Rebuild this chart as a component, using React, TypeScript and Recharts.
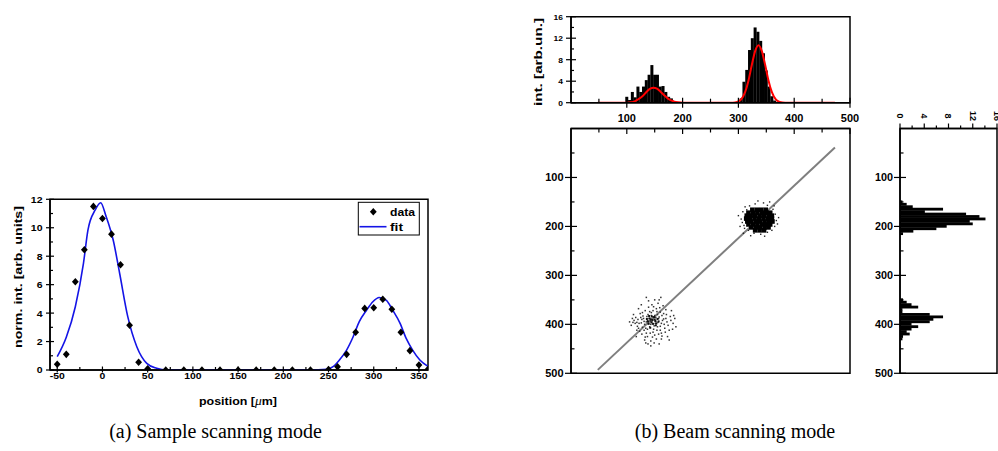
import React from 'react';
import { ComposedChart, XAxis, YAxis, Scatter, Line, Bar, ReferenceArea } from 'recharts';

const W = 998;
const H = 451;
const SANS = '"Liberation Sans", Arial, sans-serif';
const SERIF = '"Liberation Serif", "Times New Roman", serif';

// ---- (a) sample scanning mode ----
const scanPos = [-50, -40, -30, -20, -10, 0, 10, 20, 30, 40, 50, 70, 90, 110, 130, 150, 170, 190, 210, 230, 250, 260, 270, 280, 290, 300, 310, 320, 330, 340, 350, 360];
const scanInt = [0.4, 1.1, 6.2, 8.45, 11.5, 10.65, 9.55, 7.4, 3.15, 0.55, 0.08, 0, 0, 0, 0, 0, 0, 0, 0, 0, 0.03, 0.23, 1.1, 2.65, 4.33, 4.38, 4.97, 4.27, 2.65, 1.36, 0.35, 0.05];

const fitPos = [-50, -40, -30, -21, -16, -8, -2, 4, 12, 19, 28, 38, 49, 60, 71, 100, 150, 200, 229, 248, 255, 262, 270, 277, 284, 292, 299, 306, 314, 321, 329, 336, 343, 351, 360];
const fitInt = [0.94, 2.3, 4.45, 7.5, 9.85, 11.25, 11.76, 10.8, 9.1, 6.8, 3.75, 1.64, 0.47, 0.12, 0, 0, 0, 0, 0, 0.05, 0.23, 0.7, 1.4, 2.3, 3.4, 4.2, 4.8, 5.1, 4.9, 4.2, 3.3, 2.2, 1.4, 0.7, 0.25];

const aTicksX = [-50, -25, 0, 25, 50, 75, 100, 125, 150, 175, 200, 225, 250, 275, 300, 325, 350];
const aMajorX = [-50, 0, 50, 100, 150, 200, 250, 300, 350];
const aTicksY = [0, 1, 2, 3, 4, 5, 6, 7, 8, 9, 10, 11, 12];
const aMajorY = [0, 2, 4, 6, 8, 10, 12];

// ---- (b) beam scanning mode ----
// projection onto x (top histogram)
const histTopX = [100, 105, 110, 115, 120, 125, 130, 135, 140, 145, 150, 155, 160, 165, 170, 175, 180, 305, 310, 315, 320, 325, 330, 335, 340, 345, 350, 355, 360, 365];
const histTopV = [1.1, 0.5, 2, 1, 3, 2, 3, 4.2, 5.2, 7, 5.2, 5.2, 3, 3.1, 2, 1.1, 0.8, 0.8, 3.9, 6.1, 9.8, 12, 14, 13.2, 11.5, 9.2, 6, 3, 1.2, 0.4];

const fitTopX = [48, 95, 105, 112, 120, 128, 136, 142, 148, 154, 160, 168, 176, 184, 192, 202, 290, 298, 305, 312, 318, 324, 330, 336, 342, 348, 354, 360, 367, 374, 384, 473];
const fitTopY = [0, 0, 0.05, 0.15, 0.6, 1.2, 2.1, 2.6, 2.8, 2.6, 2.1, 1.3, 0.6, 0.25, 0.07, 0, 0, 0.15, 0.6, 1.95, 4.1, 7.0, 9.6, 10.7, 9.6, 7.0, 4.1, 1.95, 0.6, 0.15, 0, 0];

// projection onto y (right histogram)
const histRightY = [150, 155, 160, 165, 170, 175, 180, 185, 190, 195, 200, 205, 210, 215, 350, 355, 360, 365, 370, 375, 380, 385, 390, 395, 400, 405, 410, 415, 420, 425, 430];
const histRightV = [0.4, 1.1, 2.1, 7.1, 4.1, 10.9, 13.1, 14.1, 11.5, 12, 7.7, 6, 2.2, 0.5, 0.5, 1.1, 1.9, 3, 0.4, 0.4, 4.9, 7.1, 5.5, 4.9, 1.9, 3, 1.9, 1.1, 1.6, 0.5, 0.4];

// spot positions (x, y)
const sparseSpot = [
  [146, 391], [140, 388], [152, 394], [135, 395], [158, 385], [143, 400], [150, 382], [130, 388], [162, 398], [138, 380],
  [155, 405], [126, 397], [166, 389], [148, 410], [133, 372], [160, 375], [120, 390], [172, 395], [142, 418], [153, 368],
  [128, 406], [168, 408], [115, 398], [178, 384], [137, 425], [157, 420], [124, 378], [170, 370], [110, 388], [183, 398],
  [145, 360], [132, 432], [162, 430], [118, 412], [176, 412], [150, 350], [108, 402], [186, 388], [139, 365], [127, 420],
  [165, 362], [149, 438], [121, 368], [180, 372], [112, 380], [173, 425], [135, 345], [158, 440], [105, 395], [188, 405],
  [144, 376], [151, 398], [137, 392], [157, 388], [141, 405], [148, 386], [132, 400], [163, 382], [129, 383], [154, 412],
  [119, 404], [167, 400], [146, 426], [123, 414], [171, 380], [139, 352], [156, 357], [113, 392], [182, 410], [134, 438],
  [161, 345], [126, 360], [176, 432], [117, 425], [143, 444], [153, 430], [131, 412], [160, 412], [145, 395], [149, 403],
  [136, 384], [142, 393], [155, 380], [147, 372], [164, 392], [127, 390], [159, 366], [134, 408], [169, 416], [122, 398],
  [139, 398], [144, 382], [152, 386], [131, 394], [160, 404], [125, 386], [166, 378], [147, 416], [137, 410], [156, 396],
  [118, 396], [174, 402], [141, 374], [150, 422], [128, 376], [162, 418], [116, 386], [179, 392], [135, 418], [154, 374],
  [121, 408], [170, 388], [143, 434], [148, 364], [133, 426], [163, 424], [111, 396], [184, 382], [138, 440], [158, 350],
];
const sparseCore = [
  [146, 391], [141, 388], [151, 393], [144, 396], [149, 385], [138, 394], [153, 398], [147, 399], [140, 383], [155, 389],
  [143, 390], [150, 390], [136, 389], [145, 384], [152, 402], [139, 399], [157, 394], [142, 407],
];
const denseCore = [
  [325, 166], [333, 166], [341, 166], [349, 166],
  [318, 172], [326, 172], [334, 172], [342, 172], [350, 172], [357, 172],
  [315, 178], [322, 178], [330, 178], [338, 178], [346, 178], [354, 178], [360, 178],
  [314, 184], [321, 184], [329, 184], [337, 184], [345, 184], [353, 184], [360, 184],
  [316, 190], [323, 190], [331, 190], [339, 190], [347, 190], [355, 190], [361, 190],
  [318, 196], [326, 196], [334, 196], [342, 196], [350, 196], [357, 196],
  [323, 202], [331, 202], [339, 202], [347, 202], [354, 202],
  [330, 208], [338, 208], [346, 208],
];
const denseFringe = [
  [305, 185], [308, 170], [310, 198], [312, 160], [320, 158], [330, 154], [345, 152], [352, 157], [362, 165], [366, 175],
  [368, 188], [365, 200], [360, 208], [352, 212], [340, 216], [328, 214], [318, 208], [311, 204], [307, 192], [372, 182],
  [370, 195], [300, 178], [335, 148], [356, 150], [347, 220], [322, 219], [303, 200], [309, 214], [364, 158], [315, 166],
];

const diagX = [48, 473];
const diagY = [493, 39];

const bTicks = [50, 100, 150, 200, 250, 300, 350, 400, 450, 500];
const bMajor = [100, 200, 300, 400, 500];
const hTicks = [0, 2, 4, 6, 8, 10, 12, 14, 16];
const hMajor = [0, 4, 8, 12, 16];

const ptsA = scanPos.map((x, i) => ({ x, y: scanInt[i] }));
const fitA = fitPos.map((x, i) => ({ x, y: fitInt[i] }));
const histTop = histTopX.map((x, i) => ({ x, v: histTopV[i] }));
const fitTop = fitTopX.map((x, i) => ({ x, y: fitTopY[i] }));
const histRight = histRightY.map((y, i) => ({ y, v: histRightV[i] }));
const toXY = (a: number[][]) => a.map(([x, y]) => ({ x, y }));
const diag = diagX.map((x, i) => ({ x, y: diagY[i] }));

// plot rect -> chart margin (left axis width 1, x axis height 1)
const box = (l: number, t: number, r: number, b: number, xTop = false) => ({
  left: l - 1,
  top: xTop ? t - 1 : t,
  right: W - r,
  bottom: xTop ? H - b : H - b - 1,
});
const axisLine = { stroke: '#000', strokeWidth: 1.5 };

type Side = 'left' | 'top' | 'bottom';
interface TickCfg {
  side: Side;
  majors: number[];
  labels: boolean;
  majIn: number;
  majOut: number;
  minIn: number;
  minOut: number;
  size: number;
  cw: number;
  gap: number;
  rot?: boolean;
}

const textLen = (s: string, cw: number) => s.split('').reduce((w, ch) => w + (ch === '-' ? cw * 0.6 : cw), 0);

function makeTick(c: TickCfg) {
  return function AxisTick(props: any) {
    const { x, y, payload } = props;
    const v = payload.value;
    const s = String(v);
    const major = c.majors.includes(v);
    const din = major ? c.majIn : c.minIn;
    const dout = major ? c.majOut : c.minOut;
    const ts = {
      fontFamily: SANS,
      fontWeight: 700,
      fontSize: c.size,
      fill: '#000',
      textLength: textLen(s, c.cw),
      lengthAdjust: 'spacingAndGlyphs',
    };
    let tick;
    let label = null;
    if (c.side === 'left') {
      tick = <line x1={x + din} x2={x - dout} y1={y} y2={y} stroke="#000" strokeWidth={1.2} />;
      if (major && c.labels)
        label = <text x={x - c.gap} y={y} dy="0.36em" textAnchor="end" {...ts}>{s}</text>;
    } else if (c.side === 'bottom') {
      tick = <line x1={x} x2={x} y1={y - din} y2={y + dout} stroke="#000" strokeWidth={1.2} />;
      if (major && c.labels)
        label = <text x={x} y={y + c.gap} dy="0.72em" textAnchor="middle" {...ts}>{s}</text>;
    } else {
      tick = <line x1={x} x2={x} y1={y + din} y2={y - dout} stroke="#000" strokeWidth={1.2} />;
      if (major && c.labels)
        label = c.rot ? (
          <text transform={`translate(${x},${y - c.gap}) rotate(90)`} dy="0.36em" textAnchor="middle" {...ts}>{s}</text>
        ) : (
          <text x={x} y={y - c.gap} textAnchor="middle" {...ts}>{s}</text>
        );
    }
    return (
      <g>
        {tick}
        {label}
      </g>
    );
  };
}

const axisBase = { tickSize: 0, tickMargin: 0, tickLine: false, interval: 0 as const, axisLine, allowDataOverflow: true };

function diamond(p: any) {
  const { cx, cy } = p;
  return <polygon points={`${cx},${cy - 3.8} ${cx + 3.4},${cy} ${cx},${cy + 3.8} ${cx - 3.4},${cy}`} fill="#000" />;
}
const dot = (s: number, fill: string) => (p: any) => <rect x={p.cx - s / 2} y={p.cy - s / 2} width={s} height={s} fill={fill} />;

// histogram columns drawn with a fixed thickness around the bar centre
const colShape = (p: any) => <rect x={p.x + p.width / 2 - 1.5} y={p.y} width={3} height={Math.max(p.height, 0)} fill="#000" />;
const rowShape = (p: any) => <rect x={p.x} y={p.y + p.height / 2 - 1.4} width={Math.max(p.width, 0)} height={2.8} fill="#000" />;

const abs: React.CSSProperties = { position: 'absolute', left: 0, top: 0 };

export default function App() {
  return (
    <div style={{ position: 'absolute', left: 0, top: 0, width: W, height: H, background: '#fff', overflow: 'hidden' }}>
      {/* (a) */}
      <div style={abs}>
        <ComposedChart width={W} height={H} margin={box(50, 199.3, 428, 370)}>
          <XAxis type="number" dataKey="x" domain={[-58, 360]} ticks={aTicksX} height={1} {...axisBase}
            tick={makeTick({ side: 'bottom', majors: aMajorX, labels: true, majIn: 3.5, majOut: 2.5, minIn: 3, minOut: 0, size: 9.5, cw: 5.8, gap: 2.5 })} />
          <YAxis type="number" dataKey="y" domain={[0, 12]} ticks={aTicksY} width={1} {...axisBase}
            tick={makeTick({ side: 'left', majors: aMajorY, labels: true, majIn: 4, majOut: 4, minIn: 3, minOut: 0, size: 9.5, cw: 5.85, gap: 7.5 })} />
          <ReferenceArea x1={-58} x2={360} y1={0} y2={12} fill="none" stroke="#000" strokeWidth={1.5} fillOpacity={0} />
          <Line data={fitA} dataKey="y" type="monotone" stroke="#1414e6" strokeWidth={1.6} dot={false} isAnimationActive={false} />
          <Scatter data={ptsA} fill="#000" shape={diamond} isAnimationActive={false} />
        </ComposedChart>
      </div>

      {/* (b) projection onto x */}
      <div style={abs}>
        <ComposedChart width={W} height={H} data={histTop} margin={box(571, 16.7, 850, 102.7)}>
          <XAxis type="number" dataKey="x" domain={[0, 500]} ticks={bTicks} height={1} {...axisBase}
            tick={makeTick({ side: 'bottom', majors: bMajor, labels: true, majIn: 5, majOut: 5, minIn: 4, minOut: 0, size: 10, cw: 6.1, gap: 12 })} />
          <YAxis type="number" domain={[0, 16]} ticks={hTicks} width={1} {...axisBase}
            tick={makeTick({ side: 'left', majors: hMajor, labels: true, majIn: 5, majOut: 5, minIn: 3, minOut: 0, size: 8, cw: 4.7, gap: 8 })} />
          <ReferenceArea x1={0} x2={500} y1={0} y2={16} fill="none" stroke="#000" strokeWidth={1.5} fillOpacity={0} />
          <Bar dataKey="v" fill="#000" barSize={2} shape={colShape} isAnimationActive={false} />
          <Line data={fitTop} dataKey="y" type="monotone" stroke="#ff0000" strokeWidth={2} dot={false} isAnimationActive={false} />
        </ComposedChart>
      </div>

      {/* (b) spot map */}
      <div style={abs}>
        <ComposedChart width={W} height={H} margin={box(571, 128.5, 850, 373.3, true)}>
          <XAxis type="number" dataKey="x" orientation="top" domain={[0, 500]} ticks={bTicks} height={1} {...axisBase}
            tick={makeTick({ side: 'top', majors: bMajor, labels: false, majIn: 5.5, majOut: 0, minIn: 4, minOut: 0, size: 10, cw: 6.1, gap: 0 })} />
          <YAxis type="number" dataKey="y" domain={[0, 500]} reversed ticks={bTicks} width={1} {...axisBase}
            tick={makeTick({ side: 'left', majors: bMajor, labels: true, majIn: 6, majOut: 6, minIn: 3.5, minOut: 0, size: 10, cw: 6.1, gap: 7.5 })} />
          <ReferenceArea x1={0} x2={500} y1={0} y2={500} fill="none" stroke="#000" strokeWidth={1.5} fillOpacity={0} />
          <Scatter data={toXY(sparseSpot)} shape={dot(1.5, '#333')} isAnimationActive={false} />
          <Scatter data={toXY(sparseCore)} shape={dot(2, '#111')} isAnimationActive={false} />
          <Scatter data={toXY(denseFringe)} shape={dot(1.4, '#222')} isAnimationActive={false} />
          <Scatter data={toXY(denseCore)} shape={dot(4.6, '#000')} isAnimationActive={false} />
          <Line data={diag} dataKey="y" type="linear" stroke="#7f7f7f" strokeWidth={2} dot={false} isAnimationActive={false} />
        </ComposedChart>
      </div>

      {/* (b) projection onto y; the vertical layout already runs 0 -> 500 downward */}
      <div style={abs}>
        <ComposedChart width={W} height={H} layout="vertical" data={histRight} margin={box(900, 128.5, 997, 373.3, true)}>
          <XAxis type="number" orientation="top" domain={[0, 16]} ticks={hTicks} height={1} {...axisBase}
            tick={makeTick({ side: 'top', majors: hMajor, labels: true, majIn: 0, majOut: 5, minIn: 0, minOut: 3, size: 8.5, cw: 5, gap: 12.5, rot: true })} />
          <YAxis type="number" dataKey="y" domain={[0, 500]} ticks={bTicks} width={1} {...axisBase}
            tick={makeTick({ side: 'left', majors: bMajor, labels: true, majIn: 6, majOut: 6, minIn: 3.5, minOut: 0, size: 10, cw: 6, gap: 7 })} />
          <ReferenceArea x1={0} x2={16} y1={0} y2={500} fill="none" stroke="#000" strokeWidth={1.5} fillOpacity={0} />
          <Bar dataKey="v" fill="#000" barSize={2.6} shape={rowShape} isAnimationActive={false} />
        </ComposedChart>
      </div>

      {/* titles, legend, captions */}
      <svg width={W} height={H} style={{ ...abs, pointerEvents: 'none' }}>
        <g fontFamily={SANS} fontWeight={700} fontSize={11.5} fill="#000">
          <text transform="translate(22,277) rotate(-90)" textAnchor="middle" textLength={142} lengthAdjust="spacingAndGlyphs">
            norm. int. [arb. units]
          </text>
          <text x={238} y={405} textAnchor="middle" textLength={78} lengthAdjust="spacingAndGlyphs">
            position [<tspan fontStyle="italic" fontWeight={400} fontFamily={SERIF} fontSize={12.5}>μ</tspan>m]
          </text>
          <text transform="translate(541.5,62) rotate(-90)" textAnchor="middle" textLength={88} lengthAdjust="spacingAndGlyphs">
            int. [arb.un.]
          </text>
        </g>
        <g fontFamily={SANS} fontWeight={700} fontSize={11} fill="#000">
          <rect x={358.3} y={202.3} width={61} height={32.7} fill="#fff" stroke="#000" strokeWidth={1} />
          <polygon points="373.3,207.9 376.7,211.7 373.3,215.5 369.9,211.7" fill="#000" />
          <text x={390} y={216} textLength={25} lengthAdjust="spacingAndGlyphs">data</text>
          <line x1={359.5} x2={386.5} y1={226.7} y2={226.7} stroke="#1414e6" strokeWidth={1.6} />
          <text x={390} y={230.7} textLength={13} lengthAdjust="spacingAndGlyphs">fit</text>
        </g>
        <g fontFamily={SERIF} fontSize={20} fill="#000">
          <text x={215.5} y={438} textAnchor="middle">(a) Sample scanning mode</text>
          <text x={735} y={438} textAnchor="middle">(b) Beam scanning mode</text>
        </g>
      </svg>
    </div>
  );
}
